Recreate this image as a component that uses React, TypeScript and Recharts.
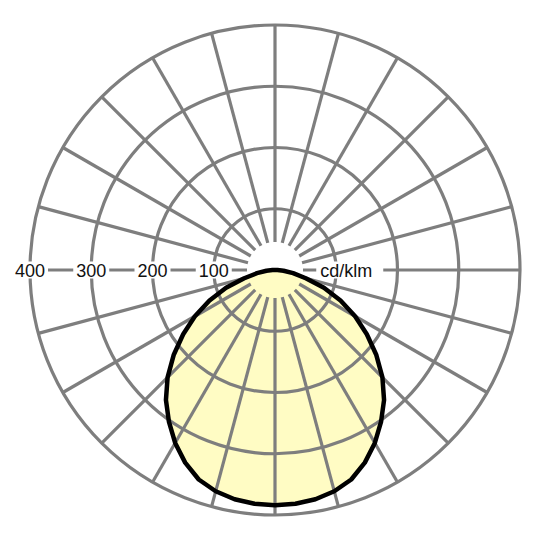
import React from "react";
import {
  RadarChart,
  Radar,
  PolarGrid,
  PolarAngleAxis,
  PolarRadiusAxis,
} from "recharts";

// luminous intensity, one half-plane: gamma measured from nadir (0 = straight down)
const GAMMA = [
  0, 5, 10, 15, 20, 25, 30, 35, 40, 45, 50, 55, 60, 65, 70, 75, 80, 85, 90,
  95, 100, 105, 110, 115, 120, 125, 130, 135, 140, 145, 150, 155, 160, 165,
  170, 175, 180,
];
const INTENSITY = [
  384, 383, 380, 374, 364, 347, 326, 302, 277, 248, 216, 183, 151, 118, 85,
  52, 30, 14, 4, 0, 0, 0, 0, 0, 0, 0, 0, 0, 0, 0, 0, 0, 0, 0, 0, 0, 0,
];

const RADIUS_TICKS = [100, 200, 300, 400];
const UNIT_TICK = [100];
const UNIT = "cd/klm";
const GRID_ANGLES = [
  0, 15, 30, 45, 60, 75, 90, 105, 120, 135, 150, 165, 180, 195, 210, 225, 240,
  255, 270, 285, 300, 315, 330, 345,
];

const W = 540;
const H = 540;
const CX = 275;
const CY = 270;
const R = 245;
const MAX = 400;
const SPOKE_START = 28; // spokes begin a little off the centre

const GRID = "#7e7e7e";
const FILL = "#fffcc4";
const FONT = "'Liberation Sans', Arial, sans-serif";

// full circle: left half is the curve itself, right half its mirror
const curveData = [
  ...GAMMA.map((g, i) => ({ angle: g, value: INTENSITY[i] })),
  ...GAMMA.slice(1, -1)
    .reverse()
    .map((g) => ({ angle: 360 - g, value: INTENSITY[GAMMA.indexOf(g)] })),
];
const gridData = GRID_ANGLES.map((a) => ({ angle: a, r: MAX }));

const noMargin = { top: 0, right: 0, bottom: 0, left: 0 };
const layer: React.CSSProperties = { position: "absolute", left: 0, top: 0 };

const RingLabel = (props: any) => {
  const { x, y, payload } = props;
  return (
    <g>
      <rect x={x - 18} y={y - 8.5} width={36} height={17} fill="#fff" />
      <text
        x={x}
        y={y + 0.5}
        textAnchor="middle"
        dominantBaseline="central"
        fontSize={18}
        fontFamily={FONT}
        fill="#111"
      >
        {payload.value}
      </text>
    </g>
  );
};

const UnitLabel = (props: any) => {
  const { x, y } = props;
  return (
    <g>
      <rect x={x - 20} y={y - 8.5} width={67} height={17} fill="#fff" />
      <text
        x={x - 16}
        y={y + 0.5}
        textAnchor="start"
        dominantBaseline="central"
        fontSize={18}
        fontFamily={FONT}
        fill="#111"
      >
        {UNIT}
      </text>
    </g>
  );
};

function CurveLayer({ children }: { children: React.ReactNode }) {
  return (
    <div style={layer}>
      <RadarChart
        width={W}
        height={H}
        cx={CX}
        cy={CY}
        outerRadius={R}
        startAngle={-90}
        endAngle={-450}
        data={curveData}
        margin={noMargin}
      >
        <PolarAngleAxis dataKey="angle" tick={false} axisLine={false} />
        {children}
      </RadarChart>
    </div>
  );
}

export default function App() {
  return (
    <div style={{ position: "absolute", left: 0, top: 0, width: W, height: H, background: "#fff" }}>
      {/* yellow body of the curve */}
      <CurveLayer>
        <PolarRadiusAxis type="number" domain={[0, MAX]} tick={false} axisLine={false} />
        <Radar dataKey="value" fill={FILL} fillOpacity={1} stroke="none" isAnimationActive={false} />
      </CurveLayer>

      {/* polar grid, spokes start at SPOKE_START */}
      <div style={layer}>
        <RadarChart
          width={W}
          height={H}
          cx={CX}
          cy={CY}
          innerRadius={SPOKE_START}
          outerRadius={R}
          startAngle={-90}
          endAngle={-450}
          data={gridData}
          margin={noMargin}
        >
          <PolarGrid gridType="circle" stroke={GRID} strokeWidth={3.2} />
          <PolarAngleAxis dataKey="angle" tick={false} axisLine={false} />
          <PolarRadiusAxis
            type="number"
            domain={[(SPOKE_START / R) * MAX, MAX]}
            ticks={RADIUS_TICKS}
            tick={false}
            axisLine={false}
          />
          <Radar dataKey="r" fill="none" stroke="none" isAnimationActive={false} />
        </RadarChart>
      </div>

      {/* outline and ring labels */}
      <CurveLayer>
        <PolarRadiusAxis
          type="number"
          angle={180}
          domain={[0, MAX]}
          ticks={RADIUS_TICKS}
          tick={RingLabel}
          axisLine={false}
        />
        <Radar
          dataKey="value"
          fill="none"
          stroke="#000"
          strokeWidth={4.5}
          strokeLinejoin="round"
          isAnimationActive={false}
        />
      </CurveLayer>

      {/* unit label on the right half of the axis */}
      <CurveLayer>
        <PolarRadiusAxis
          type="number"
          angle={0}
          domain={[0, MAX]}
          ticks={UNIT_TICK}
          tick={UnitLabel}
          axisLine={false}
        />
        <Radar dataKey="value" fill="none" stroke="none" isAnimationActive={false} />
      </CurveLayer>
    </div>
  );
}
